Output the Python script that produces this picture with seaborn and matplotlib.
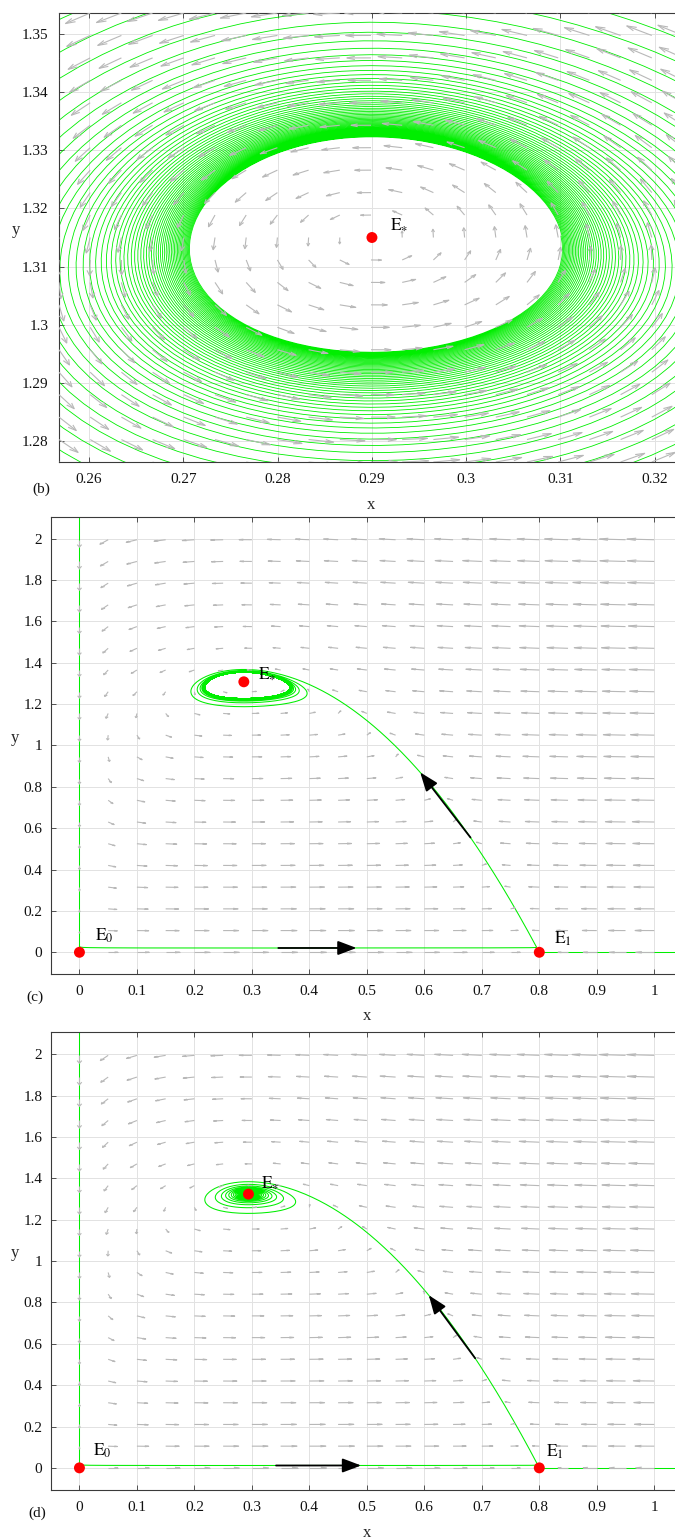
import numpy as np
import pandas as pd
import matplotlib
matplotlib.use("Agg")
import matplotlib.pyplot as plt
from matplotlib.collections import LineCollection
import seaborn as sns

# ---------------------------------------------------------------------------
# Rosenzweig-MacArthur predator-prey system
#   dx/dt = x (1 - x/K) - m x y / (1 + h x)
#   dy/dt = y (c m x / (1 + h x) - d)
# ---------------------------------------------------------------------------
K = 0.8
panel_tags = ["(b)", "(c)", "(d)"]
h_vals = [4.552449, 4.56621, 4.58716]
m_vals = [1.124817, 1.132694, 1.121983]
c_vals = [0.446368, 0.364288, 0.431873]
d_vals = [0.0627546, 0.0511771, 0.0606562]

# starting states of the plotted orbits
prey_start = [0.001, 0.001, 0.001]
pred_start = [0.026, 0.026, 0.015]
y_axis_start = 2.2      # orbit lying on the predator axis (x = 0)
x_axis_start = 1.06     # orbit lying on the prey axis (y = 0)
t_end = [3000.0, 5000.0, 3000.0]

# view windows and ticks
x_limits = [(0.2568, 0.3230), (-0.05, 1.05), (-0.05, 1.05)]
y_limits = [(1.2764, 1.3536), (-0.105, 2.105), (-0.107, 2.108)]
x_ticks = [[0.26, 0.27, 0.28, 0.29, 0.30, 0.31, 0.32],
           [0, 0.1, 0.2, 0.3, 0.4, 0.5, 0.6, 0.7, 0.8, 0.9, 1.0],
           [0, 0.1, 0.2, 0.3, 0.4, 0.5, 0.6, 0.7, 0.8, 0.9, 1.0]]
y_ticks = [[1.28, 1.29, 1.30, 1.31, 1.32, 1.33, 1.34, 1.35],
           [0, 0.2, 0.4, 0.6, 0.8, 1.0, 1.2, 1.4, 1.6, 1.8, 2.0],
           [0, 0.2, 0.4, 0.6, 0.8, 1.0, 1.2, 1.4, 1.6, 1.8, 2.0]]

# direction-field sample points
field_x = [np.linspace(0.2568, 0.3230, 21), np.linspace(0.0, 1.0, 21), np.linspace(0.0, 1.0, 21)]
field_y = [np.linspace(1.2764, 1.3536, 21), np.linspace(0.0, 1.995, 20), np.linspace(0.0, 1.995, 20)]

# black direction arrows along the main orbit
flow_arrow_x = [None, (0.346, 0.482), (0.342, 0.490)]
rise_arrow_y = [None, (0.555, 0.870), (0.530, 0.835)]

# equilibrium labels: (key, subscript, dx, dy) offsets in points
eq_labels = [
    [("*", r"\ast", 13.0, 5.8)],
    [("0", "0", 11.3, 8.3), ("1", "1", 10.8, 6.1), ("*", r"\ast", 10.1, 2.2)],
    [("0", "0", 10.0, 8.6), ("1", "1", 5.0, 8.0), ("*", r"\ast", 9.4, 5.0)],
]

# layout (figure fractions) and label placement (axes fractions)
fig_w_px, fig_h_px = 675, 1538
axes_rects = [[0.08741, 0.69961, 0.92444, 0.29194],
              [0.07511, 0.36671, 0.93674, 0.29714],
              [0.07511, 0.03121, 0.93674, 0.29779]]
xlabel_pos = [(0.5, -0.0958), (0.5, -0.0919), (0.5, -0.0932)]
ylabel_pos = [(-0.0689, 0.517), (-0.0565, 0.516), (-0.0565, 0.518)]
tag_pos_px = [(41, 489), (35, 997), (37, 1513)]
ytick_pad = [7.5, 6.0, 6.0]
orbit_lw = [0.6, 0.75, 0.75]

GREEN = "#00ee00"
FIELD_GREY = "#b8b8b8"


def rhs(x, y, h, m, c, d):
    fr = m * x / (1.0 + h * x)
    return x * (1.0 - x / K) - fr * y, y * (c * fr - d)


def orbit(x0, y0, prm, t1, dt=0.25, keep=2):
    h, m, c, d = prm
    x, y = float(x0), float(y0)
    xs, ys = [x], [y]
    hd = 0.5 * dt
    n = int(round(t1 / dt))
    for i in range(1, n + 1):
        a1, b1 = rhs(x, y, h, m, c, d)
        a2, b2 = rhs(x + hd * a1, y + hd * b1, h, m, c, d)
        a3, b3 = rhs(x + hd * a2, y + hd * b2, h, m, c, d)
        a4, b4 = rhs(x + dt * a3, y + dt * b3, h, m, c, d)
        x += dt * (a1 + 2 * a2 + 2 * a3 + a4) / 6.0
        y += dt * (b1 + 2 * b2 + 2 * b3 + b4) / 6.0
        if i % keep == 0:
            xs.append(x)
            ys.append(y)
    return np.array(xs), np.array(ys)


def equilibria(prm):
    h, m, c, d = prm
    xs = d / (c * m - d * h)
    ys = (1 - xs / K) * (1 + h * xs) / m
    return {"0": (0.0, 0.0), "1": (K, 0.0), "*": (xs, ys)}


def draw_field(ax, gx, gy, prm, power=0.4, longest=0.95):
    X, Y = np.meshgrid(gx, gy)
    U, V = rhs(X, Y, *prm)
    dx = gx[1] - gx[0]
    dy = gy[1] - gy[0]
    mag = np.hypot(U / dx, V / dy)
    safe = np.where(mag > 0, mag, 1.0)
    L = np.where(mag > 0, longest * (mag / mag.max()) ** power, 0.0)
    u = U * L / safe
    v = V * L / safe
    tx, ty = X + u, Y + v
    al, be = 0.33, 0.33
    h1x, h1y = tx - al * (u + be * v), ty - al * (v - be * u)
    h2x, h2y = tx - al * (u - be * v), ty - al * (v + be * u)
    segs = []
    for i in np.ndindex(X.shape):
        if L[i] <= 0:
            continue
        segs.append([(X[i], Y[i]), (tx[i], ty[i])])
        segs.append([(h1x[i], h1y[i]), (tx[i], ty[i]), (h2x[i], h2y[i])])
    ax.add_collection(LineCollection(segs, colors=FIELD_GREY, linewidths=0.8, zorder=3))


def black_arrow(ax, tail, tip):
    ax.annotate("", xy=tip, xytext=tail, zorder=5,
                arrowprops=dict(arrowstyle="-|>,head_length=0.95,head_width=0.36",
                                mutation_scale=12, lw=1.3, color="black",
                                shrinkA=0, shrinkB=0))


sns.set_theme(style="ticks")
plt.rcParams["font.family"] = ["Liberation Serif", "DejaVu Serif"]
plt.rcParams["mathtext.fontset"] = "stix"

fig = plt.figure(figsize=(fig_w_px / 100, fig_h_px / 100), dpi=100)

for k in range(3):
    prm = (h_vals[k], m_vals[k], c_vals[k], d_vals[k])
    ax = fig.add_axes(axes_rects[k])

    # orbits
    frames = []
    mx, my = orbit(prey_start[k], pred_start[k], prm, t_end[k])
    frames.append(pd.DataFrame({"x": mx, "y": my, "orbit": "main"}))
    if k > 0:
        vx, vy = orbit(0.0, y_axis_start, prm, 600.0, dt=0.5)
        frames.append(pd.DataFrame({"x": vx, "y": vy, "orbit": "y-axis"}))
        hx, hy = orbit(x_axis_start, 0.0, prm, 60.0, dt=0.05)
        frames.append(pd.DataFrame({"x": hx, "y": hy, "orbit": "x-axis"}))
    orbits = pd.concat(frames, ignore_index=True)
    sns.lineplot(data=orbits, x="x", y="y", units="orbit", estimator=None, sort=False,
                 color=GREEN, lw=orbit_lw[k], ax=ax, legend=False, zorder=2)

    # direction field
    draw_field(ax, field_x[k], field_y[k], prm)

    # black arrows showing the sense of motion
    eq = equilibria(prm)
    if flow_arrow_x[k] is not None:
        first = np.argmax(mx > 0.78)
        xa, xb = flow_arrow_x[k]
        ya = np.interp(xa, mx[:first], my[:first])
        yb = np.interp(xb, mx[:first], my[:first])
        black_arrow(ax, (xa, ya), (xb, yb))
        top = first + np.argmax(mx[first:] < eq["*"][0])
        seg_x, seg_y = mx[first:top], my[first:top]
        ya, yb = rise_arrow_y[k]
        black_arrow(ax, (np.interp(ya, seg_y, seg_x), ya), (np.interp(yb, seg_y, seg_x), yb))

    # equilibria
    keys = [lab[0] for lab in eq_labels[k]]
    pts = pd.DataFrame({"x": [eq[n][0] for n in keys], "y": [eq[n][1] for n in keys]})
    sns.scatterplot(data=pts, x="x", y="y", s=62, color="red", edgecolor="none",
                    ax=ax, legend=False, zorder=6)
    for key, sub, ox, oy in eq_labels[k]:
        ax.annotate(r"$\mathrm{E}_{%s}$" % sub, xy=eq[key], xytext=(ox, oy),
                    textcoords="offset points", ha="left", va="baseline",
                    fontsize=12.5, color="black", zorder=7)

    # axes styling
    ax.set_xlim(*x_limits[k])
    ax.set_ylim(*y_limits[k])
    ax.set_xticks(x_ticks[k])
    ax.set_xticklabels(["%g" % t for t in x_ticks[k]])
    ax.set_yticks(y_ticks[k])
    ax.set_yticklabels(["%g" % t for t in y_ticks[k]])
    ax.tick_params(axis="both", direction="in", length=3.6, width=0.6, color="#3a3a3a",
                   labelcolor="#111111", labelsize=11, top=True, right=True)
    ax.tick_params(axis="x", pad=8.0)
    ax.tick_params(axis="y", pad=ytick_pad[k])
    for sp in ax.spines.values():
        sp.set_color("#3a3a3a")
        sp.set_linewidth(0.8)
    ax.grid(True, color="#e2e2e2", lw=0.7)
    ax.set_axisbelow(True)

    ax.set_xlabel("x", fontsize=12)
    ax.set_ylabel("y", fontsize=12, rotation=0)
    ax.xaxis.set_label_coords(*xlabel_pos[k])
    ax.xaxis.label.set_verticalalignment("center")
    ax.yaxis.set_label_coords(*ylabel_pos[k])
    ax.yaxis.label.set_verticalalignment("center")
    ax.yaxis.label.set_horizontalalignment("center")

    tx, ty = tag_pos_px[k]
    fig.text(tx / fig_w_px, 1 - ty / fig_h_px, panel_tags[k], ha="center", va="center",
             fontsize=11, color="#111111")

fig.savefig("out.png", dpi=100)
